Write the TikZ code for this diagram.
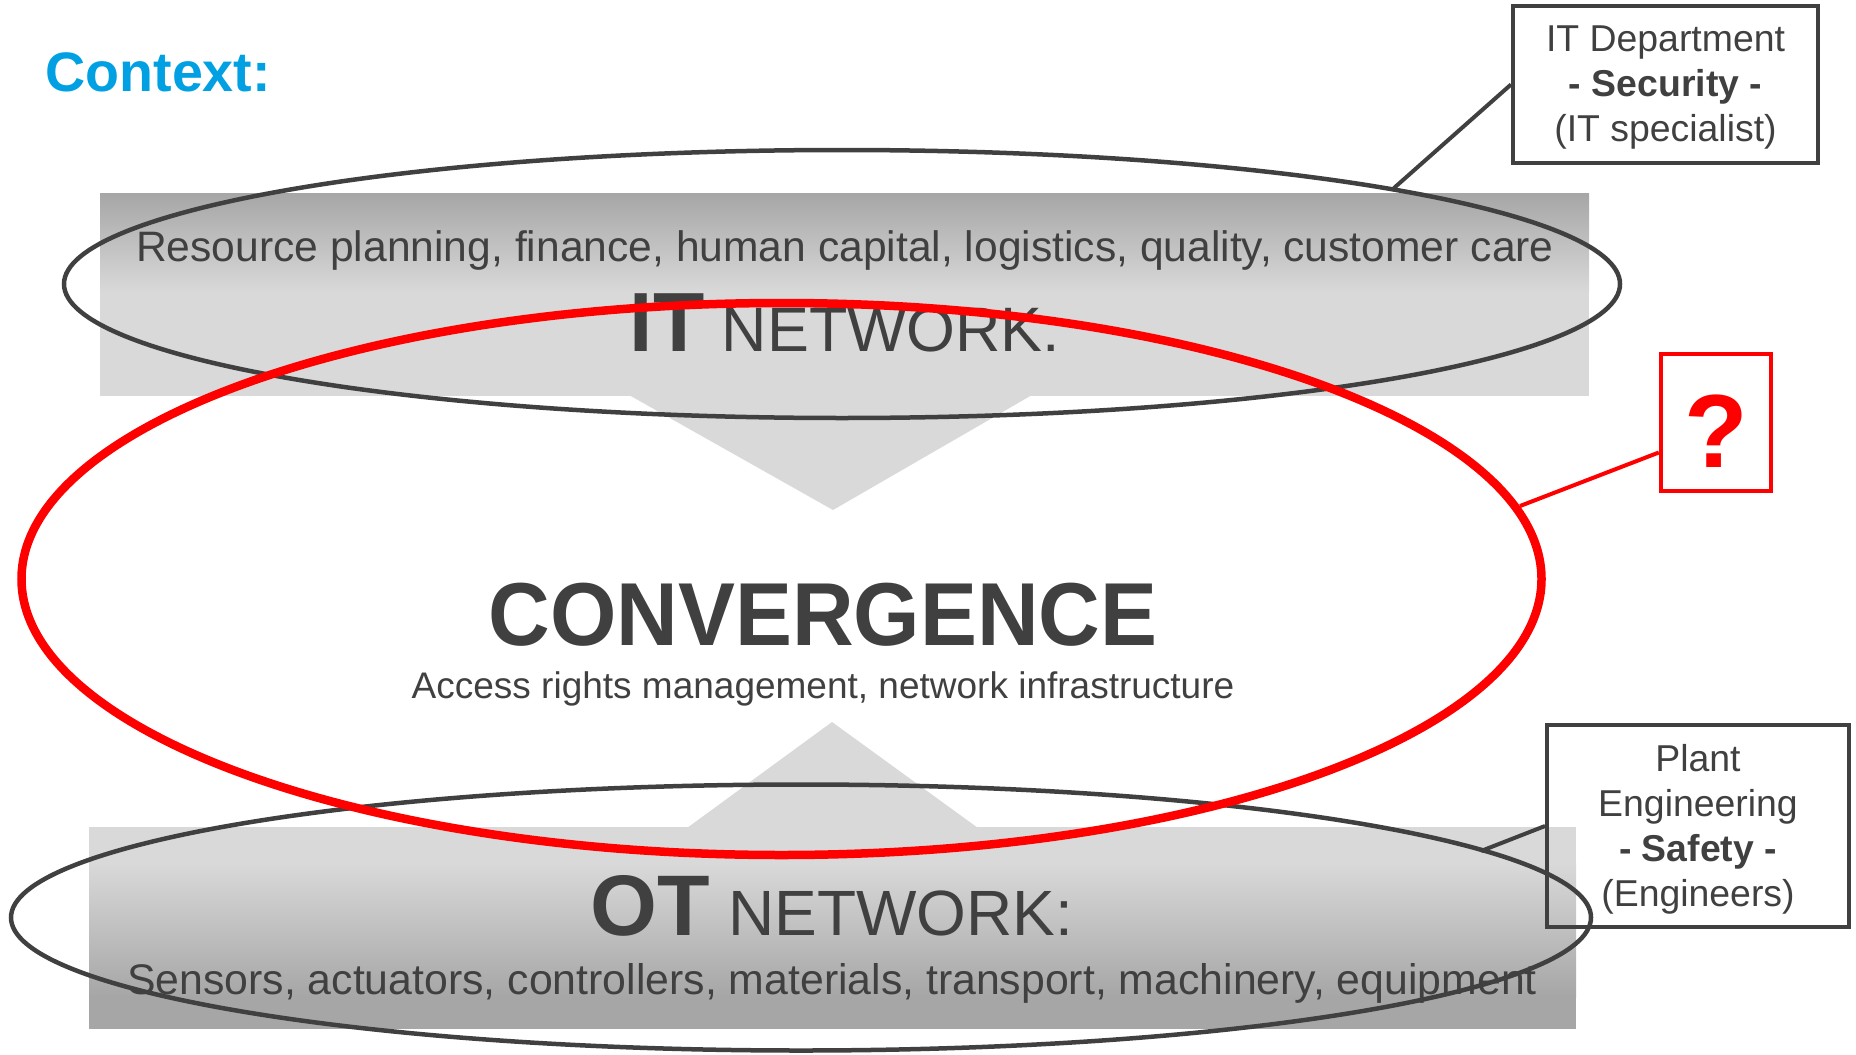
\documentclass[tikz,border=0pt]{standalone}
\usepackage{fontspec}
\usepackage{graphicx}
\setmainfont{Liberation Sans}
\definecolor{txt}{HTML}{404040}
\definecolor{ctx}{RGB}{0,160,226}
\definecolor{lg}{HTML}{D9D9D9}
\definecolor{dg}{HTML}{A6A6A6}
\definecolor{rd}{RGB}{255,0,0}
\begin{document}
\begin{tikzpicture}[x=0.5pt,y=-0.5pt,
  every node/.style={text=txt, inner sep=0pt},
  netring/.style={draw=txt, line width=2.25pt},
  redring/.style={draw=rd, line width=4.25pt},
  infobox/.style={draw=txt, line width=2pt},
  infotext/.style={align=center, font=\fontsize{18.7}{22.5}\selectfont},
  qstbox/.style={draw=rd, line width=2.2pt, text=rd, font=\bfseries\fontsize{52}{54}\selectfont, text height=45pt, text depth=0pt},
  link/.style={draw=txt, line width=2pt},
  redlink/.style={draw=rd, line width=2pt},
  mid/.style={font=\fontsize{18.5}{20}\selectfont}]
\useasboundingbox (0,0) rectangle (1856,1054);
% top block with arrow
\fill[lg] (100,193) rectangle (1589,396);
\shade[top color=dg, bottom color=lg] (100,193) rectangle (1589,292);
\fill[lg] (629,395) -- (1032,395) -- (833,510) -- cycle;
% bottom block with arrow
\fill[lg] (89,827) rectangle (1576,1029);
\shade[top color=lg, bottom color=dg] (89,863) rectangle (1576,997);
\fill[dg] (89,996) rectangle (1576,1029);
\fill[lg] (687,828) -- (978,828) -- (832,722) -- cycle;
% texts
\node[font=\bfseries\fontsize{27.8}{30}\selectfont, text=ctx, anchor=base west] (ctx) at (45,91) {Context:};
\node[font=\fontsize{21.3}{24}\selectfont, anchor=base] (res) at (845,261) {Resource planning, finance, human capital, logistics, quality, customer care};
\node[anchor=base] (itn) at (845,351) {{\bfseries\fontsize{42}{44}\selectfont IT}{\fontsize{31.4}{33}\selectfont\ NETWORK:}};
\node[anchor=base, font=\bfseries\fontsize{44.7}{46}\selectfont] (conv) at (823,645) {\scalebox{0.955}[1]{CONVERGENCE}};
\node[mid, anchor=base] (acc) at (823,698) {Access rights management, network infrastructure};
\node[anchor=base] (otn) at (832,935) {{\bfseries\fontsize{43}{45}\selectfont OT}{\fontsize{32}{34}\selectfont\ NETWORK:}};
\node[font=\fontsize{21.4}{24}\selectfont, anchor=base] (sen) at (832,994) {Sensors, actuators, controllers, materials, transport, machinery, equipment};
% rings
\draw[netring] (842,284) ellipse [x radius=389pt, y radius=67pt];
\draw[netring] (801,917.5) ellipse [x radius=395pt, y radius=66.5pt];
\draw[redring] (781.5,579) ellipse [x radius=380pt, y radius=138pt];
% boxes
\node[infobox, minimum width=152.5pt, minimum height=78.5pt] (itbox) at (1665.5,84.5) {};
\node[infotext] (itlbl) at ([yshift=-1.5pt]itbox.center) {IT Department\\\textbf{- Security -}\\(IT specialist)};
\node[infobox, minimum width=151pt, minimum height=101pt] (plbox) at (1698,826) {};
\node[infotext] (pllbl) at ([yshift=-1.5pt]plbox.center) {Plant\\Engineering\\\textbf{- Safety -}\\(Engineers)};
\node[qstbox, minimum width=55pt, minimum height=68.5pt] (qbox) at (1716,422.5) {?};
% connectors
\coordinate (itpt) at (1394,188);
\coordinate (qpt) at (1520,506);
\coordinate (plpt) at (1481,851);
\draw[link] (itbox.west) -- (itpt);
\draw[redlink] ([yshift=-15pt]qbox.west) -- (qpt);
\draw[link] (plbox.west) -- (plpt);
\end{tikzpicture}
\end{document}
